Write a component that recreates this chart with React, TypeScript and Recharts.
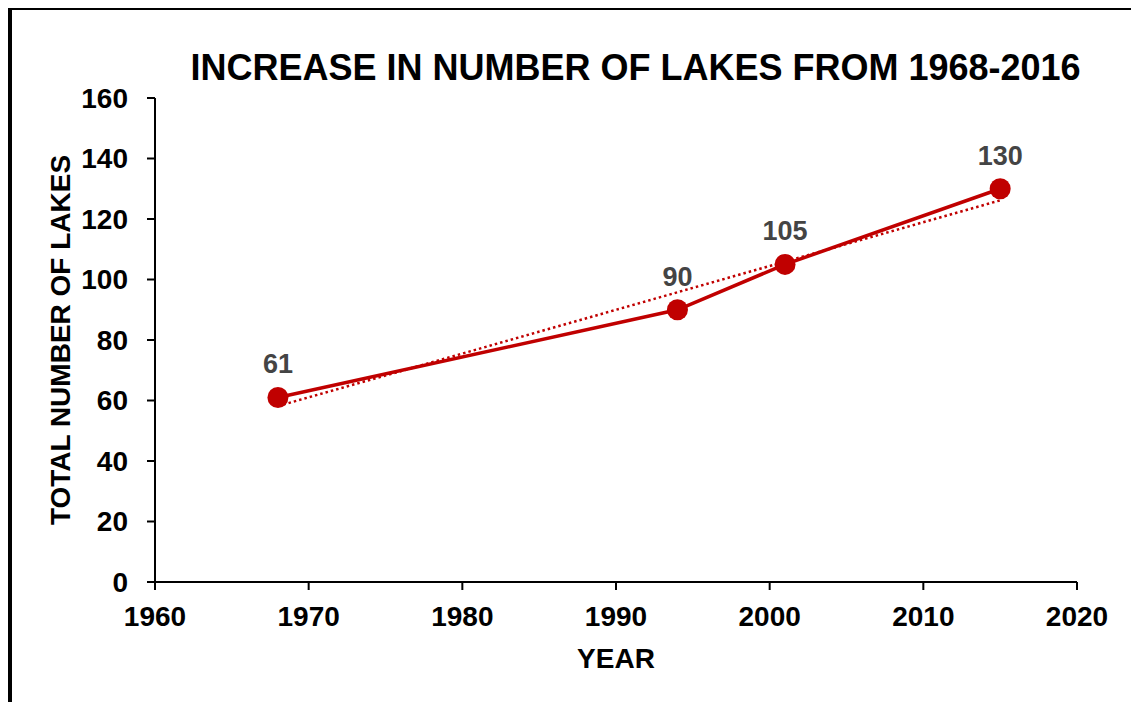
import { LineChart, Line, XAxis, YAxis, LabelList } from "recharts";

// Lake counts by survey year
const years = [1968, 1994, 2001, 2015];
const lakeCounts = [61, 90, 105, 130];

const xTicks = [1960, 1970, 1980, 1990, 2000, 2010, 2020];
const yTicks = [0, 20, 40, 60, 80, 100, 120, 140, 160];

const RED = "#C00000";
const FONT = "'Liberation Sans', Arial, sans-serif";

const points = years.map((year, i) => ({ year, lakes: lakeCounts[i] }));

// least-squares trend over the surveyed years
function linearTrend(xs: number[], ys: number[]) {
  const n = xs.length;
  const mx = xs.reduce((a, b) => a + b, 0) / n;
  const my = ys.reduce((a, b) => a + b, 0) / n;
  let sxy = 0;
  let sxx = 0;
  xs.forEach((x, i) => {
    sxy += (x - mx) * (ys[i] - my);
    sxx += (x - mx) * (x - mx);
  });
  const slope = sxy / sxx;
  const first = xs[0];
  const last = xs[n - 1];
  return [
    { year: first, trend: my + slope * (first - mx) },
    { year: last, trend: my + slope * (last - mx) },
  ];
}

const trendPoints = linearTrend(years, lakeCounts);

const tickStyle = { fill: "#000", fontSize: 28, fontWeight: 700, fontFamily: FONT };
const axisTitleStyle = { fill: "#000", fontSize: 28, fontWeight: 700, fontFamily: FONT, textAnchor: "middle" as const };

export default function App() {
  return (
    <div
      style={{
        position: "relative",
        margin: -8,
        width: 1139,
        height: 720,
        overflow: "hidden",
        background: "#fff",
      }}
    >
      <div
        style={{
          position: "absolute",
          left: 8,
          top: 6,
          width: 1121,
          height: 1000,
          border: "4px solid #000",
        }}
      />
      <div
        style={{
          position: "absolute",
          left: 0,
          width: 1271,
          top: 50,
          textAlign: "center",
          fontFamily: FONT,
          fontWeight: 700,
          fontSize: 36,
          lineHeight: "35px",
          color: "#000",
          whiteSpace: "nowrap",
        }}
      >
        INCREASE IN NUMBER OF LAKES FROM 1968-2016
      </div>
      <div style={{ position: "absolute", left: 0, top: 0 }}>
        <LineChart
          width={1139}
          height={702}
          margin={{ top: 98, right: 62, bottom: 60, left: 75 }}
        >
          <XAxis
            dataKey="year"
            type="number"
            domain={[1960, 2020]}
            ticks={xTicks}
            allowDataOverflow
            height={60}
            tickSize={8}
            tickMargin={16}
            axisLine={{ stroke: "#000", strokeWidth: 2 }}
            tickLine={{ stroke: "#000", strokeWidth: 2 }}
            tick={tickStyle}
            label={{ value: "YEAR", position: "bottom", offset: 6, style: axisTitleStyle }}
          />
          <YAxis
            type="number"
            domain={[0, 160]}
            ticks={yTicks}
            width={80}
            tickSize={8}
            tickMargin={19}
            axisLine={{ stroke: "#000", strokeWidth: 2 }}
            tickLine={{ stroke: "#000", strokeWidth: 2 }}
            tick={tickStyle}
            label={{
              value: "TOTAL NUMBER OF LAKES",
              angle: -90,
              position: "left",
              offset: 15,
              style: axisTitleStyle,
            }}
          />
          <Line
            data={trendPoints}
            dataKey="trend"
            stroke={RED}
            strokeWidth={2.5}
            strokeDasharray="2.5 3"
            dot={false}
            activeDot={false}
            isAnimationActive={false}
          />
          <Line
            data={points}
            dataKey="lakes"
            stroke={RED}
            strokeWidth={3.5}
            dot={{ r: 10.5, fill: RED, stroke: "none" }}
            activeDot={false}
            isAnimationActive={false}
          >
            <LabelList
              dataKey="lakes"
              position="top"
              offset={24}
              fill="#444"
              fontSize={27}
              fontWeight={700}
              fontFamily={FONT}
            />
          </Line>
        </LineChart>
      </div>
    </div>
  );
}
